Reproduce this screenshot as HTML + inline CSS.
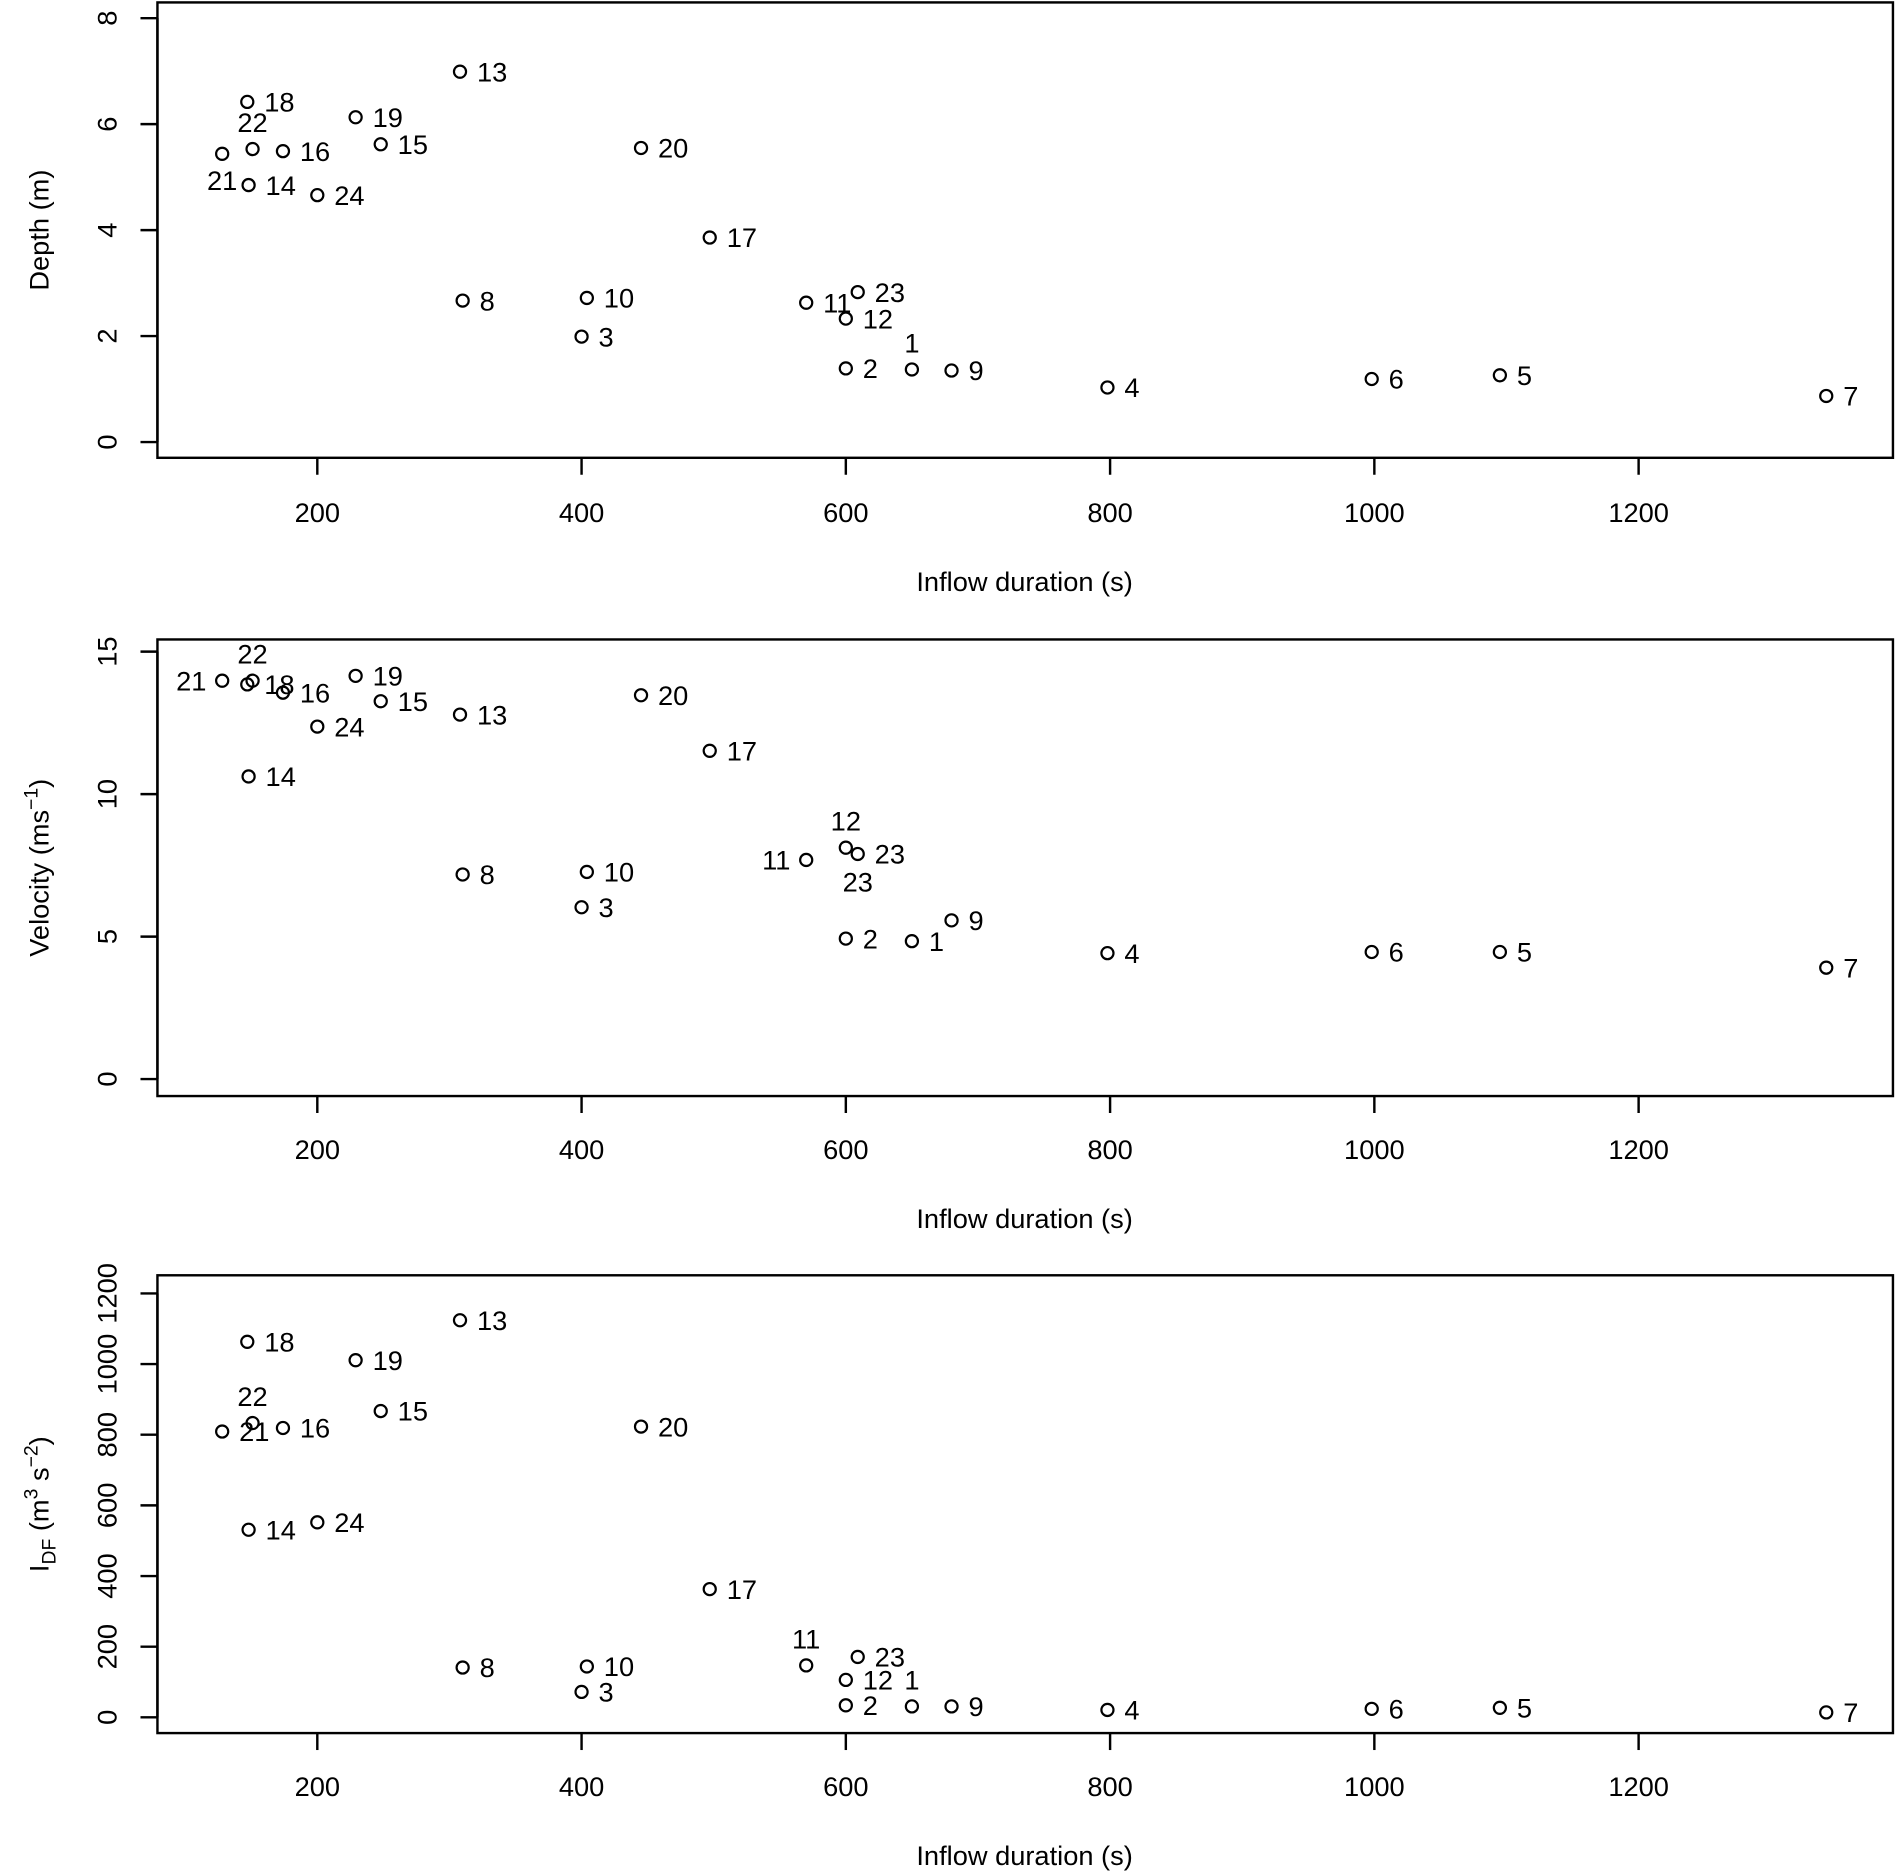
<!DOCTYPE html>
<html><head><meta charset="utf-8"><style>
html,body{margin:0;padding:0;background:#fff}
svg{display:block}
text{font-family:"Liberation Sans",Arial,sans-serif;fill:#000}
</style></head><body>
<svg id="fig" width="1899" height="1876" viewBox="0 0 1568 1549" xmlns="http://www.w3.org/2000/svg"></svg>
<script>
const ids = [1,2,3,4,5,6,7,8,9,10,11,12,13,14,15,16,17,18,19,20,21,22,23,24];
const duration = [650,600,400,798,1095,998,1342,310,680,404,570,600,308,148,248,174,497,147,229,445,128,151,609,200];
const depth = [1.37,1.39,1.99,1.03,1.26,1.19,0.87,2.67,1.35,2.72,2.63,2.33,6.99,4.85,5.62,5.49,3.86,6.42,6.13,5.55,5.44,5.53,2.83,4.66];
const velocity = [4.84,4.93,6.03,4.42,4.46,4.46,3.91,7.18,5.57,7.27,7.69,8.12,12.79,10.62,13.26,13.56,11.52,13.85,14.15,13.47,13.98,13.98,7.90,12.37];
const idf = [31,34,72,21,27,24,14,141,31,144,147,106,1124,531,867,819,363,1063,1011,823,809,833,171,552];
const xTicks = [200,400,600,800,1000,1200];
const depthTicks = [0,2,4,6,8];
const velTicks = [0,5,10,15];
const idfTicks = [0,200,400,600,800,1000,1200];

const NS = "http://www.w3.org/2000/svg";
const svg = document.getElementById('fig');
const FS = 22.5;
function mk(tag, attrs, parent){const e=document.createElementNS(NS,tag);for(const k in attrs)e.setAttribute(k,attrs[k]);(parent||svg).appendChild(e);return e;}
function xs(v){return 262+(v-200)*1.091;}

const panels = [
 {name:'depth', vals:depth, ticks:depthTicks, top:2, bot:378, y0:365, yPer:43.75, tickLab:423, title:480,
  pos:{21:'bl',22:'t',1:'t'}, extra:[]},
 {name:'velocity', vals:velocity, ticks:velTicks, top:528, bot:905, y0:891, yPer:23.53, tickLab:949, title:1006,
  pos:{21:'l',22:'t',12:'t',11:'l'}, extra:[{t:'23',id:23,dx:0,dy:23}]},
 {name:'idf', vals:idf, ticks:idfTicks, top:1053, bot:1431, y0:1418, yPer:0.2917, tickLab:1475, title:1532,
  pos:{11:'t',22:'t',1:'t'}, extra:[]}
];

panels.forEach((p,pi)=>{
  const g = mk('g',{});
  
  
  const ys = v => p.y0 - v*p.yPer;
  const box = mk('rect',{x:130,y:p.top,width:1433,height:p.bot-p.top,fill:'none',stroke:'#000','stroke-width':2},g);
  
  
  const xa = mk('g',{},g);
  
  
  xTicks.forEach(t=>{
    mk('line',{x1:xs(t),x2:xs(t),y1:p.bot,y2:p.bot+14,stroke:'#000','stroke-width':2},xa);
    const tx = mk('text',{x:xs(t),y:p.tickLab+8,'font-size':FS,'text-anchor':'middle'},xa);
    tx.textContent = t;
    
    
  });
  const xt = mk('text',{x:846,y:p.title+8,'font-size':FS,'text-anchor':'middle'},g);
  xt.textContent = 'Inflow duration (s)';
  
  
  const ya = mk('g',{},g);
  
  
  mk('line',{x1:130,x2:130,y1:ys(p.ticks[0]),y2:ys(p.ticks[p.ticks.length-1]),stroke:'#000','stroke-width':2},ya);
  p.ticks.forEach(t=>{
    mk('line',{x1:116,x2:130,y1:ys(t),y2:ys(t),stroke:'#000','stroke-width':2},ya);
    const tx = mk('text',{x:0,y:0,'font-size':FS,'text-anchor':'middle',transform:`translate(96,${ys(t)}) rotate(-90)`},ya);
    tx.textContent = t;
    
    
  });
  const cy = (p.top+p.bot)/2;
  const yt = mk('text',{x:0,y:0,'font-size':FS,'text-anchor':'middle',transform:`translate(40,${cy}) rotate(-90)`},g);
  if(pi===0) yt.textContent='Depth (m)';
  else if(pi===1) yt.innerHTML='Velocity (ms<tspan dy="-9" font-size="16">−1</tspan><tspan dy="9">)</tspan>';
  else yt.innerHTML='I<tspan dy="6" font-size="16">DF</tspan><tspan dy="-6"> (m</tspan><tspan dy="-9" font-size="16">3</tspan><tspan dy="9"> s</tspan><tspan dy="-9" font-size="16">−2</tspan><tspan dy="9">)</tspan>';
  
  
  ids.forEach((id,i)=>{
    const px = xs(duration[i]), py = ys(p.vals[i]);
    const c = mk('circle',{cx:px,cy:py,r:5,fill:'none',stroke:'#000','stroke-width':1.8},g);
    
    
    const pos = p.pos[id]||'r';
    let lx=px+14, ly=py+8, anc='start';
    if(pos==='t'){lx=px;ly=py-14;anc='middle';}
    if(pos==='l'){lx=px-13;anc='end';}
    if(pos==='bl'){lx=px;ly=py+30;anc='middle';}
    const lt = mk('text',{x:lx,y:ly,'font-size':FS,'text-anchor':anc},g);
    lt.textContent = id;
    
    
  });
  p.extra.forEach(e=>{
    const i = ids.indexOf(e.id);
    const lt = mk('text',{x:xs(duration[i])+e.dx,y:ys(p.vals[i])+e.dy+8,'font-size':FS,'text-anchor':'middle'},g);
    lt.textContent = e.t;
    
    
  });
});
</script>
</body></html>
